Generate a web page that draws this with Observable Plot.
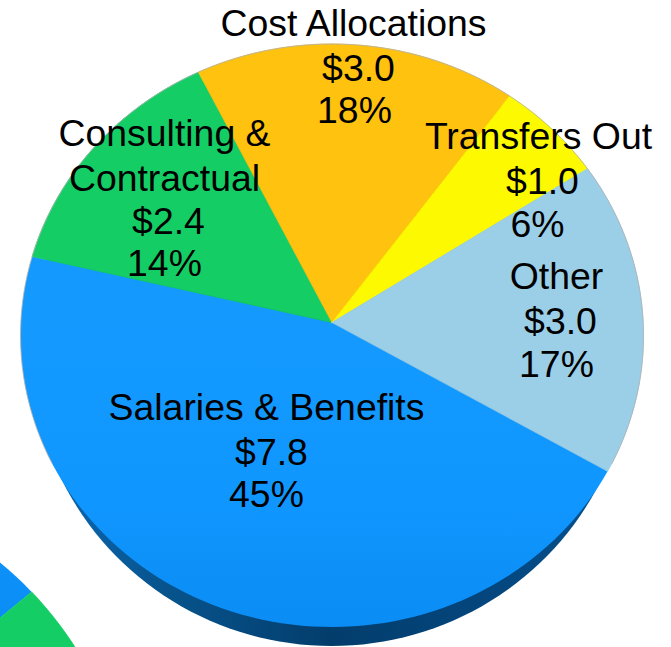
<!DOCTYPE html>
<html>
<head>
<meta charset="utf-8">
<script src="https://cdn.jsdelivr.net/npm/d3@7"></script>
<script src="https://cdn.jsdelivr.net/npm/@observablehq/plot@0.6"></script>
<style>html,body{margin:0;padding:0;background:#fff}svg{display:block}</style>
</head>
<body>
<div id="chart"></div>
<script>
// Data
const categories = ["Salaries & Benefits", "Consulting & Contractual", "Cost Allocations", "Transfers Out", "Other"];
const amounts = [7.8, 2.4, 3.0, 1.0, 3.0];
const percents = ["45%", "14%", "18%", "6%", "17%"];
const sliceColors = ["url(#salaries)", "#14ce65", "#ffc20e", "#fdf900", "#9bcfe8"];
const sliceEdges = ["none", "#14ce65", "#ffc20e", "#fdf900", "#9bcfe8"];

// Layout of the tilted disc: outline ellipse, and the apex where slices meet
const WIDTH = 671, HEIGHT = 647;
const mainPie = {cx: 331.5, cy: 335, rx: 311.5, ry: 291.5, apexY: 322, start: 120};
const cornerPie = {cx: -236, cy: 846, rx: 369, ry: 369, apexY: 811, start: -112.8};
const rim = {cx: 331, cy: 350, rx: 300, ry: 295.5};
const edgeColor = "#b0b0b0";

// One row per printed line of text
const labelRows = [
  {t: categories[2], x: 353, y: 35},  {t: "$" + amounts[2].toFixed(1), x: 358, y: 80},  {t: percents[2], x: 354, y: 122},
  {t: "Consulting &", x: 164, y: 145}, {t: "Contractual", x: 164, y: 190},
  {t: "$" + amounts[1].toFixed(1), x: 168, y: 233}, {t: percents[1], x: 164, y: 275},
  {t: categories[3], x: 538, y: 148}, {t: "$" + amounts[3].toFixed(1), x: 542, y: 193}, {t: percents[3], x: 537, y: 236},
  {t: categories[4], x: 556, y: 288}, {t: "$" + amounts[4].toFixed(1), x: 560, y: 333}, {t: percents[4], x: 556, y: 376},
  {t: categories[0], x: 266, y: 419}, {t: "$" + amounts[0].toFixed(1), x: 271, y: 464}, {t: percents[0], x: 266, y: 506}
];

// Maps a clockwise-from-north angle on the flat disc to the tilted picture
function project(p, deg) {
  const a = deg * Math.PI / 180, u = Math.sin(a), v = -Math.cos(a);
  const v0 = (p.apexY - p.cy) / p.ry, d = 1 + v * v0;
  return {x: p.cx + p.rx * u * Math.sqrt(1 - v0 * v0) / d, y: p.cy + p.ry * (v + v0) / d};
}
function sliceRows(p) {
  const total = d3.sum(amounts);
  let at = p.start;
  return amounts.map((val, i) => {
    const sweep = val / total * 360, pts = [{x: p.cx, y: p.apexY}];
    for (let k = 0; k <= 90; k++) pts.push(project(p, at + sweep * k / 90));
    pts.push({x: p.cx, y: p.apexY});
    at += sweep;
    return {pts, color: sliceColors[i], edge: sliceEdges[i]};
  });
}
function outline(e) {
  return d3.range(0, 361, 2).map(deg => project({...e, apexY: e.cy}, deg));
}
const sliceMark = s => Plot.line(s.pts, {x: "x", y: "y", fill: s.color, stroke: s.edge, strokeWidth: 0.8, clip: true});

function gradient(id, x1, y1, x2, y2, stops) {
  return `<linearGradient id="${id}" gradientUnits="userSpaceOnUse" x1="${x1}" y1="${y1}" x2="${x2}" y2="${y2}">` +
    stops.map(([o, c]) => `<stop offset="${o}" stop-color="${c}"/>`).join("") + `</linearGradient>`;
}
function defsMark() {
  const g = document.createElementNS("http://www.w3.org/2000/svg", "defs");
  g.innerHTML =
    gradient("salaries", 0, 300, 0, 630, [[0, "#149aff"], [0.6, "#1097ff"], [1, "#0a8cf4"]]) +
    gradient("rimShade", 40, 0, 620, 0, [[0, "#0b69b6"], [0.2, "#07558f"], [0.5, "#033d6c"], [0.8, "#04477f"], [1, "#065391"]]);
  return g;
}

const chart = Plot.plot({
  width: WIDTH, height: HEIGHT,
  margin: 0,
  x: {domain: [0, WIDTH], range: [0, WIDTH], axis: null},
  y: {domain: [0, HEIGHT], range: [0, HEIGHT], axis: null},
  marks: [
    defsMark,
    Plot.line(outline(rim), {x: "x", y: "y", fill: "url(#rimShade)", stroke: null, clip: true}),
    ...sliceRows(cornerPie).map(sliceMark),
    ...sliceRows(mainPie).map(sliceMark),
    Plot.line(outline(mainPie).filter(d => d.y < 470), {x: "x", y: "y", z: d => d.x < 331.5, stroke: edgeColor, strokeWidth: 1, strokeOpacity: 0.8, clip: true}),
    Plot.text(labelRows, {
      x: "x", y: "y", text: "t", lineAnchor: "bottom",
      fontFamily: "Liberation Sans", fontSize: 37.4, fill: "#000"
    })
  ]
});
document.getElementById("chart").append(chart);
</script>
</body>
</html>
